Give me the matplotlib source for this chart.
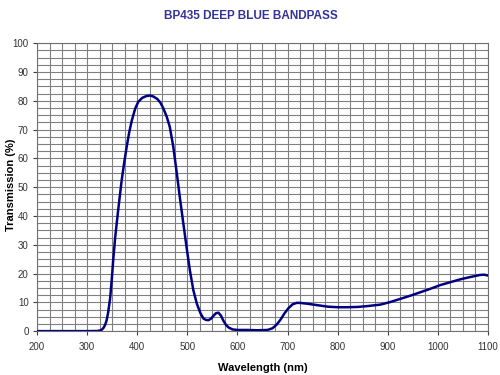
import numpy as np
import matplotlib.pyplot as plt
from matplotlib.ticker import MultipleLocator

# Transmission curve
wavelength = [200, 250, 300, 320, 326, 330, 333, 336, 339, 342, 346, 349, 352,
              356, 361, 365, 369, 374, 379, 384, 389, 396, 402, 410, 418, 425,
              432, 440, 446, 452, 459, 465, 472, 479, 485, 492, 499, 505, 512,
              519, 526, 532, 537, 542, 547, 552, 557, 562, 567, 572, 577, 582,
              590, 600, 620, 640, 660, 670, 678, 686, 694, 702, 710, 718, 725,
              740, 760, 780, 800, 820, 840, 860, 885, 905, 925, 945, 965, 985,
              1005, 1025, 1045, 1065, 1084, 1092, 1100]
transmission = [0, 0, 0, 0.05, 0.2, 0.6, 1.2, 2.2, 3.8, 6.5, 11.5, 17.5, 24.5,
                32.5, 40.5, 46.5, 52.4, 58.5, 64, 69.0, 73.0, 77.3, 79.6, 81.0, 81.6, 81.8,
                81.5, 80.6, 79.4, 77.4, 74.4, 70.9, 64, 54.8, 46.5, 37.4, 28.5, 21.2, 14.2,
                9.5, 6.3, 4.4, 3.9, 3.8, 4.3, 5.3, 6.2, 6.4, 5.4, 3.6, 2.2, 1.3,
                0.6, 0.4, 0.4, 0.3, 0.4, 1.0, 2.2, 4.0, 6.2, 8.0, 9.3, 9.8, 9.8,
                9.5, 9.0, 8.5, 8.3, 8.3, 8.4, 8.7, 9.2, 10.1, 11.2, 12.3, 13.5, 14.7,
                16.0, 17.0, 18.0, 18.8, 19.5, 19.6, 19.3]

fig = plt.figure(figsize=(5, 3.75), dpi=100)
ax = fig.add_axes([0.074, 0.117, 0.902, 0.768])

ax.plot(wavelength, transmission, color='#000080', lw=1.8, zorder=3,
        solid_joinstyle='round', solid_capstyle='round')

ax.set_xlim(200, 1100)
ax.set_ylim(0, 100)
ax.xaxis.set_major_locator(MultipleLocator(100))
ax.xaxis.set_minor_locator(MultipleLocator(25))
ax.yaxis.set_major_locator(MultipleLocator(10))
ax.yaxis.set_minor_locator(MultipleLocator(2.5))
ax.grid(which='both', color='#808080', lw=0.8)
ax.set_axisbelow(True)
ax.tick_params(which='minor', length=0)
ax.tick_params(which='major', length=3, width=0.8, color='#404040',
               labelsize=7, labelcolor='#333333', pad=3)
ax.tick_params(axis='x', pad=5)
for s in ax.spines.values():
    s.set_color('#707070')
    s.set_linewidth(0.8)

ax.set_xlabel('Wavelength (nm)', fontsize=8, fontweight='bold',
              family='Liberation Sans', labelpad=8)
for lab in ax.get_xticklabels() + ax.get_yticklabels():
    lab.set_family('Liberation Sans')

fig.text(0.022, 0.507, 'Transmission (%)', rotation=90, ha='center',
         va='center', fontsize=8, fontweight='bold', family='Liberation Sans')
fig.text(0.502, 0.973, 'BP435 DEEP BLUE BANDPASS', ha='center', va='top',
         fontsize=8.5, fontweight='bold', color='#333399',
         family='Liberation Sans')

fig.savefig('out.png', dpi=100)
